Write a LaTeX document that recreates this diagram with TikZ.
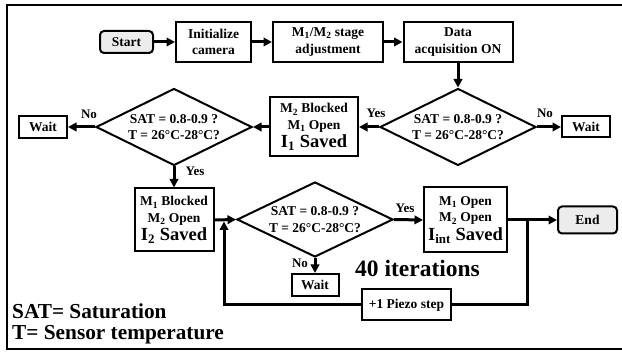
\documentclass[tikz,border=0pt]{standalone}
\usepackage{fontspec}
\setmainfont{Liberation Serif}
\usetikzlibrary{shapes.geometric,arrows.meta}
\begin{document}
\begin{tikzpicture}[x=1pt,y=-1pt,
  every node/.style={font=\fontsize{13.5}{16.5}\selectfont\bfseries, inner sep=0pt},
  box/.style={draw, line width=2pt, align=center},
  term/.style={box, rounded corners=4pt, fill=gray!15},
  decision/.style={draw, line width=2pt, shape=diamond, aspect=2, align=center,
    minimum width=156pt, minimum height=77pt},
  flow/.style={line width=3pt, -{Triangle[length=8.5pt,width=8.5pt]}},
  plain/.style={line width=3pt},
  lbl/.style={font=\fontsize{13}{15}\selectfont\bfseries},
  legend/.style={font=\fontsize{21.3}{24}\selectfont\bfseries, anchor=west}
]
\useasboundingbox (0,0) rectangle (622,352);
% outer frame (open on the right)
\begin{scope}
  \clip (0,0) rectangle (622,352);
  \draw[line width=2.8pt] (640,5) -- (7,5) -- (7,349) -- (640,349);
\end{scope}

% top row
\node[term, minimum width=53pt, minimum height=22pt] (start) at (126.5,42) {Start};
\node[box, minimum width=75pt, minimum height=40pt] (init) at (213.5,42) {Initialize\\camera};
\node[box, minimum width=110pt, minimum height=40pt] (stage) at (328,42) {M\textsubscript{1}/M\textsubscript{2} stage\\adjustment};
\node[box, minimum width=109pt, minimum height=40pt] (data) at (458,42) {Data\\acquisition ON};

% middle row
\node[decision] (rdia) at (458,127) {SAT = 0.8-0.9 ?\\T = 26°C-28°C?};
\node[box, minimum width=48pt, minimum height=21pt] (rwait) at (586,127) {Wait};
\node[box, minimum width=88pt, minimum height=59pt] (m2box) at (314,127)
  {M\textsubscript{2} Blocked\\M\textsubscript{1} Open\\[2pt]{\fontsize{18.5}{20}\selectfont I\textsubscript{1} Saved}};
\node[decision] (ldia) at (174,127) {SAT = 0.8-0.9 ?\\T = 26°C-28°C?};
\node[box, minimum width=48pt, minimum height=22pt] (lwait) at (43,127) {Wait};

% bottom row
\node[box, minimum width=79pt, minimum height=63pt] (m1box) at (174,220)
  {M\textsubscript{1} Blocked\\M\textsubscript{2} Open\\[2pt]{\fontsize{18.5}{20}\selectfont I\textsubscript{2} Saved}};
\node[decision, minimum height=75pt] (bdia) at (315,219.5) {SAT = 0.8-0.9 ?\\T = 26°C-28°C?};
\node[box, minimum width=83pt, minimum height=65pt] (ibox) at (465.5,220)
  {M\textsubscript{1} Open\\M\textsubscript{2} Open\\[2pt]{\fontsize{18.5}{20}\selectfont I\textsubscript{int} Saved}};
\node[term, minimum width=59pt, minimum height=27pt] (end) at (587.5,220) {End};
\node[box, minimum width=47pt, minimum height=22pt] (bwait) at (315,285) {Wait};
\node[box, minimum width=89pt, minimum height=31pt] (piezo) at (406.5,305) {+1 Piezo step};

% labels
\node[lbl] (no1) at (89,114) {No};
\node[lbl] (yes1) at (195,171) {Yes};
\node[lbl] (yes2) at (376,113) {Yes};
\node[lbl] (no2) at (545,113) {No};
\node[lbl] (yes3) at (405,208) {Yes};
\node[lbl] (no3) at (300,263) {No};
\node[font=\fontsize{23.5}{26}\selectfont\bfseries, anchor=west] (iter) at (355,268) {40 iterations};
\node[legend] (legsat) at (12,311) {SAT= Saturation};
\node[legend] (legt) at (12,335) {T= Sensor temperature};

% connectors
\draw[flow] (start.east) -- (init.west);
\draw[flow] (init.east) -- (stage.west);
\draw[flow] (stage.east) -- (data.west);
\draw[flow] (data.south) -- (rdia.north);
\draw[flow] (rdia.west) -- (m2box.east);
\draw[flow] (rdia.east) -- (rwait.west);
\draw[flow] (m2box.west) -- (ldia.east);
\draw[flow] (ldia.west) -- (lwait.east);
\draw[flow] (ldia.south) -- (m1box.north);
\draw[flow] (m1box.east) -- (bdia.west);
\draw[flow] (bdia.east) -- (ibox.west);
\draw[flow] (bdia.south) -- (bwait.north);
\draw[flow] (ibox.east) -- (end.west);

% piezo loop
\coordinate (split) at (527,220);
\coordinate (merge) at (224,221.5);
\draw[plain] (split) |- (piezo.east);
\draw[flow] (piezo.west) -| (merge);
\end{tikzpicture}
\end{document}
